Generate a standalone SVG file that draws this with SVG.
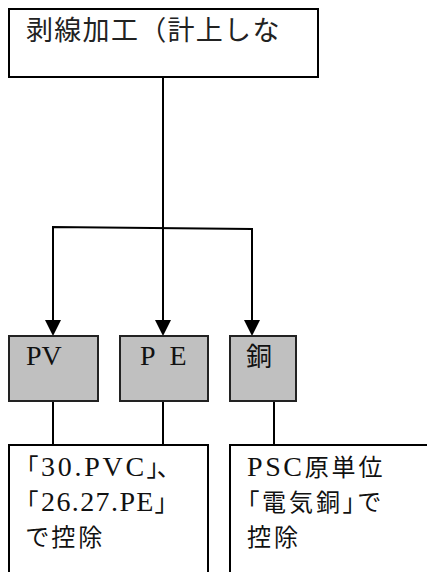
<svg xmlns="http://www.w3.org/2000/svg" width="427" height="572" viewBox="0 0 427 572">
<style>
.box{fill:#fff;stroke:#000;stroke-width:2}
.gbox{fill:#c0c0c0;stroke:#222;stroke-width:2}
.ln{fill:none;stroke:#000;stroke-width:2}
.sans{font-family:"Noto Sans CJK JP",sans-serif;font-size:27px;fill:#222}
.serif{font-family:"Liberation Serif","Noto Sans CJK JP",serif;font-size:28px;fill:#111}
.cjk{font-family:"Noto Sans CJK JP",sans-serif;font-size:24px;fill:#111;font-feature-settings:"palt";letter-spacing:3px}
</style>
<g id="top">
<rect class="box" x="9" y="9" width="309" height="68"/>
<text class="sans" x="26" y="40" letter-spacing="1.3">剥線加工（計上しな</text>
</g>
<g id="connectors">
<path class="ln" d="M163,77 V320"/>
<path class="ln" d="M53,320 V227 L252,229 V320"/>
<polygon points="155,320 171,320 163,336" fill="#000"/>
<polygon points="45,320 61,320 53,336" fill="#000"/>
<polygon points="244,320 260,320 252,336" fill="#000"/>
<path class="ln" d="M53,401 V445 M163,401 V445 M274,401 V445" stroke-width="1.8"/>
</g>
<g id="pv">
<rect class="gbox" x="9" y="336" width="89" height="65"/>
<text class="serif" x="26" y="365">PV</text>
</g>
<g id="pe">
<rect class="gbox" x="120" y="336" width="88" height="65"/>
<text class="serif" x="140" y="365" letter-spacing="4">P E</text>
</g>
<g id="cu">
<rect class="gbox" x="230" y="336" width="66" height="65"/>
<text class="cjk" x="246" y="366" style="font-size:26px">銅</text>
</g>
<g id="left-note">
<path class="box" d="M9,573 V445 H208 V573"/>
<text class="cjk" x="26" y="476">「<tspan class="serif" letter-spacing="2.75">30.PVC</tspan><tspan letter-spacing="-2">」</tspan>、</text>
<text class="cjk" x="26" y="511">「<tspan class="serif" letter-spacing="1.4">26.27.PE</tspan>」</text>
<text class="cjk" x="26" y="546">で控除</text>
</g>
<g id="right-note">
<path class="box" d="M230,573 V445 H429"/>
<text class="cjk" x="247" y="476"><tspan class="serif" letter-spacing="2.6">PSC</tspan>原単位</text>
<text class="cjk" x="247" y="511">「電気銅」で</text>
<text class="cjk" x="247" y="546">控除</text>
</g>
</svg>
